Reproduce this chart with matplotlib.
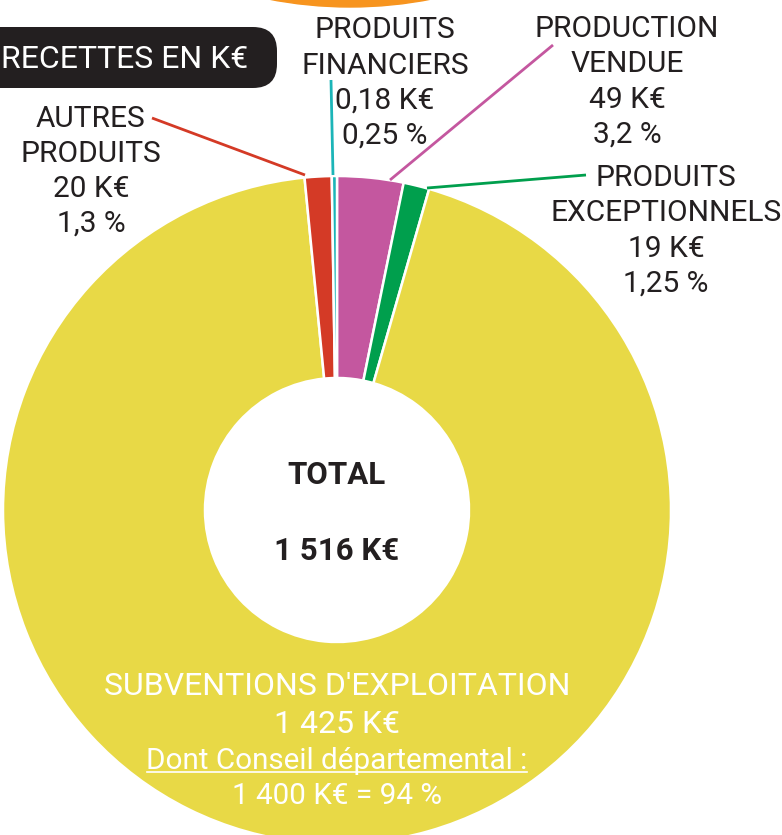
import matplotlib
matplotlib.use("Agg")
import matplotlib.pyplot as plt
from matplotlib.patches import FancyBboxPatch, Circle

W, H = 782, 835

# ---- data ----
categories = ["PRODUCTION VENDUE", "PRODUITS EXCEPTIONNELS", "SUBVENTIONS D'EXPLOITATION",
              "AUTRES PRODUITS", "PRODUITS FINANCIERS"]
shares_pct = [3.2, 1.25, 94.0, 1.3, 0.25]
amounts_label = ["49 K€", "19 K€", "1 425 K€", "20 K€", "0,18 K€"]
pct_label = ["3,2 %", "1,25 %", "", "1,3 %", "0,25 %"]
total_label = "1 516 K€"
conseil_label = "1 400 K€ = 94 %"
colors = ["#C4579F", "#009F4D", "#E8D946", "#D43A26", "#1CB5B8"]

plt.rcParams['font.family'] = ['Roboto', 'DejaVu Sans']
DARK = "#231F20"

fig = plt.figure(figsize=(W / 100, H / 100), dpi=100)
ax = fig.add_axes([0, 0, 1, 1])


def Y(p):
    return H - p


# orange decorative circle at top
ax.add_patch(Circle((350, Y(-416)), 423, color="#F7941E", zorder=0))

# donut
cx, cy, R, r_in = 337, 510, 334, 132
ax.pie(shares_pct, colors=colors, startangle=90, counterclock=False,
       radius=R, center=(cx, Y(cy)),
       wedgeprops=dict(width=R - r_in, edgecolor="white", linewidth=1.8))

# title box
ax.add_patch(FancyBboxPatch((-40, Y(88)), 40 + 277, 61,
                            boxstyle="round,pad=0,rounding_size=24",
                            facecolor=DARK, edgecolor="none", zorder=3))
ax.text(1, Y(68), "RECETTES EN K€", color="white", fontsize=23,
        ha="left", va="baseline", zorder=4)

# leader lines
ax.plot([152, 305], [Y(118), Y(175)], color=colors[3], lw=2, solid_capstyle="butt")
ax.plot([331, 333], [Y(80), Y(175)], color=colors[4], lw=2, solid_capstyle="butt")
ax.plot([553, 390], [Y(45), Y(180)], color=colors[0], lw=2, solid_capstyle="butt")
ax.plot([586, 427], [Y(175), Y(188)], color=colors[1], lw=2, solid_capstyle="butt")


def label(x, baselines, lines, color=DARK, size=21.5, weight="normal"):
    for b, t in zip(baselines, lines):
        s = size[lines.index(t)] if isinstance(size, list) else size
        ax.text(x, Y(b), t, color=color, fontsize=s, fontweight=weight,
                ha="center", va="baseline")


label(91, [127, 162, 197, 232], ["AUTRES", "PRODUITS", amounts_label[3], pct_label[3]])
label(385, [38, 74, 109, 144], ["PRODUITS", "FINANCIERS", amounts_label[4], pct_label[4]])
label(627, [37, 72, 108, 143], ["PRODUCTION", "VENDUE", amounts_label[0], pct_label[0]])
label(666, [186, 221, 257, 292], ["PRODUITS", "EXCEPTIONNELS", amounts_label[1], pct_label[1]])

# center total
label(337, [484, 560], ["TOTAL", total_label], size=22.5, weight="bold")

# subventions text
label(337, [695, 733, 769, 804],
      ["SUBVENTIONS D'EXPLOITATION", amounts_label[2], "Dont Conseil départemental :",
       conseil_label], color="white", size=[23, 23, 21.3, 21.3])
ax.plot([147, 527], [Y(771.5), Y(771.5)], color="white", lw=1.2)

ax.set_xlim(0, W)
ax.set_ylim(0, H)
ax.set_aspect("auto")
ax.axis("off")
fig.savefig("out.png", dpi=100)
